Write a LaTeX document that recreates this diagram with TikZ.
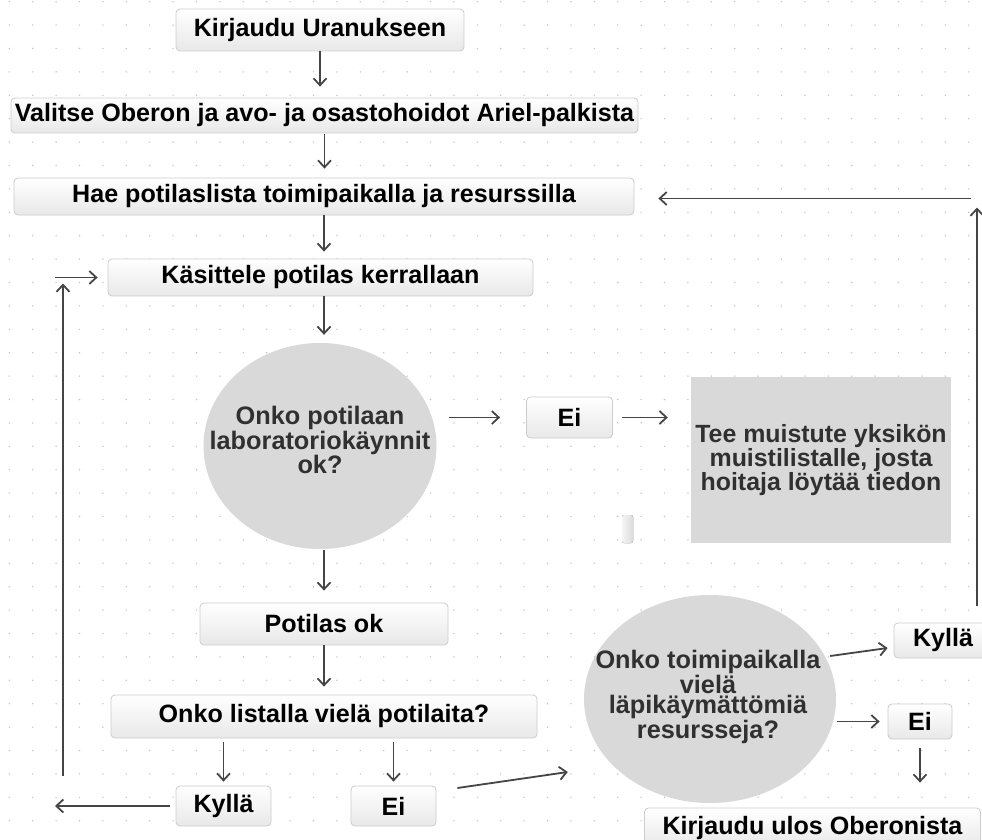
\documentclass[tikz,border=0pt]{standalone}
\usepackage{fontspec}
\setmainfont{Liberation Sans}
\usetikzlibrary{positioning,shapes.geometric,arrows.meta}

\definecolor{linegray}{HTML}{454545}
\definecolor{boxline}{HTML}{CCCCCC}
\definecolor{fillgray}{HTML}{D9D9D9}
\definecolor{txtgray}{HTML}{303030}
\definecolor{dotgray}{HTML}{C4C4C4}

\tikzset{
  box/.style={draw=boxline, line width=0.8pt, rounded corners=4pt, top color=white, bottom color=black!9,
    inner sep=0pt, text=black, font=\fontsize{25.1}{24}\selectfont\bfseries},
  circ/.style={ellipse, fill=fillgray, inner sep=0pt},
  circtext/.style={align=center, text=txtgray, font=\fontsize{25.3}{20.5}\selectfont\bfseries},
  notebox/.style={fill=fillgray, inner sep=0pt, align=center, text=txtgray,
    font=\fontsize{24.9}{22.5}\selectfont\bfseries},
  arr/.style={->, draw=linegray, line width=1.8pt}
}

\begin{document}
\begin{tikzpicture}[x=1pt, y=-1pt, >={Straight Barb[length=7pt,width=13pt]}]
            \clip (0,0) rectangle (982,840);
            \fill[white] (0,0) rectangle (982,840);
            % dotted grid
            \foreach \i in {0,...,41}
              \foreach \j in {0,...,35}
                \fill[dotgray] (9.3+23.4*\i, 1.7+23.4*\j) circle (0.8);

            \node[box, minimum width=288, minimum height=42] (kirj) at (320,30) {Kirjaudu Uranukseen};
            \node[box, minimum width=627, minimum height=35] (valitse) at (324.5,115.5) {Valitse Oberon ja avo- ja osastohoidot Ariel-palkista};
            \node[box, minimum width=620, minimum height=37] (hae) at (324,196.5) {Hae potilaslista toimipaikalla ja resurssilla};
            \node[box, minimum width=425, minimum height=37] (kas) at (320.5,277.5) {Käsittele potilas kerrallaan};

            \node[circ, minimum width=233, minimum height=206] (lab) at (320,446) {};
            \node[circtext] (labtxt) at (320,440) {Onko potilaan\\laboratoriokäynnit\\ok?};
            \node[box, minimum width=86, minimum height=41] (ei1) at (569.5,417.5) {Ei};
            \node[notebox, minimum width=260, minimum height=166] (muisti) at (821,460) {Tee muistute yksikön\\muistilistalle, josta\\hoitaja löytää tiedon};
            \fill[left color=black!4, right color=black!14, rounded corners=2pt] (622,515) rectangle (633,543);

            \node[box, minimum width=248, minimum height=42] (potok) at (324,624) {Potilas ok};
            \node[box, minimum width=426, minimum height=43] (lista) at (324,716.5) {Onko listalla vielä potilaita?};
            \node[box, minimum width=95, minimum height=40] (kyl1) at (223.5,806) {Kyllä};
            \node[box, minimum width=85, minimum height=40] (ei2) at (393.5,806) {Ei};

            \node[circ, minimum width=252, minimum height=208] (res) at (710,699) {};
            \node[circtext] (restxt) at (708,697) {Onko toimipaikalla\\vielä\\läpikäymättömiä\\resursseja?};
            \node[box, minimum width=98, minimum height=35] (kyl2) at (943,640.5) {Kyllä};
            \node[box, minimum width=64, minimum height=35] (ei3) at (920,721.5) {Ei};
            \node[box, minimum width=336, minimum height=40] (ulos) at (812.5,828) {Kirjaudu ulos Oberonista};

            \coordinate (lbot) at (63,776);
            \coordinate (lin) at (55,277.5);
            \coordinate (rbot) at (977,606);
            \coordinate (rtop) at (977,198.5);

            % main column
            \draw[arr, shorten >=11pt] (kirj.south) -- (kirj.south |- valitse.north);
            \draw[arr, shorten <=1pt, shorten >=9pt] (valitse.south) -- (valitse.south |- hae.north);
            \draw[arr, shorten >=7pt] (hae.south) -- (hae.south |- kas.north);
            \draw[arr, shorten >=8pt] (hae.south |- kas.south) -- (hae.south |- lab.north);
            \draw[arr, shorten <=1pt, shorten >=12pt] (potok.north |- lab.south) -- (potok.north);
            \draw[arr, shorten >=8pt] (potok.south) -- (potok.south |- lista.north);
            \draw[arr, shorten <=4pt, shorten >=4pt] (lista.south -| kyl1.north) -- (kyl1.north);
            \draw[arr, shorten <=4pt, shorten >=4pt] (lista.south -| ei2.north) -- (ei2.north);

            % side branch
            \draw[arr, shorten <=12.5pt, shorten >=26pt] (lab.east |- ei1.west) -- (ei1.west);
            \draw[arr, shorten <=9pt, shorten >=23pt] (ei1.east) -- (muisti.west |- ei1.east);

            % loop back on the left
            \draw[arr, shorten <=6pt] (kyl1.west) -- (kyl1.west -| lin);
            \draw[arr, shorten >=6pt] (lbot) -- (lbot |- lin);
            \draw[arr, shorten >=10pt] (lin) -- (kas.west);

            % resources
            \draw[arr] ([shift={(21,-18)}]ei2.east) -- ([shift={(-16,73)}]res.west);
            \draw[arr] ([shift={(-6,-43)}]res.east) -- ([shift={(-6,7.5)}]kyl2.west);
            \draw[arr, shorten <=1pt, shorten >=8pt] (res.east |- ei3.west) -- (ei3.west);
            \draw[arr, shorten <=9pt, shorten >=25pt] (ei3.south) -- (ei3.south |- ulos.north);

            % loop back on the right
            \draw[arr, shorten >=9pt] (rbot) -- (rtop);
            \draw[arr, shorten <=6pt, shorten >=24pt] (rtop) -- (rtop -| hae.east);
\end{tikzpicture}
\end{document}
